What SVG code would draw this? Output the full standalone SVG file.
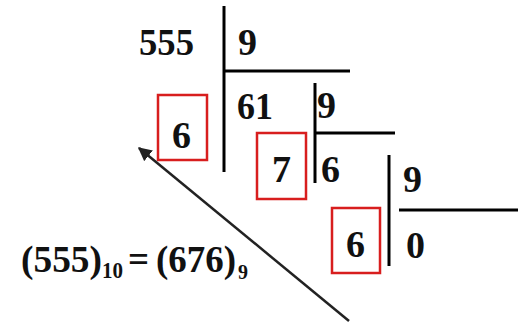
<svg xmlns="http://www.w3.org/2000/svg" width="518" height="324" viewBox="0 0 518 324">
<style>
.n{font-family:"Liberation Serif","Times New Roman",serif;font-size:38px;font-weight:bold;fill:#111}
.eq{font-family:"Liberation Serif","Times New Roman",serif;font-size:37px;font-weight:bold;fill:#111}
.ln{stroke:#000;stroke-width:3;fill:none}
.box{stroke:#d81e1e;stroke-width:2.5;fill:none}
</style>
<defs>
<marker id="ah" viewBox="0 0 10 10" refX="9" refY="5" markerWidth="5.5" markerHeight="5.5" orient="auto" markerUnits="strokeWidth">
<path d="M0,0 L10,5 L0,10 Z" fill="#222"/>
</marker>
</defs>
<rect width="518" height="324" fill="#fff"/>
<g id="division-lines">
<line class="ln" x1="224" y1="6" x2="224" y2="172"/>
<line class="ln" x1="224" y1="71" x2="350" y2="71"/>
<line class="ln" x1="315" y1="83" x2="315" y2="183"/>
<line class="ln" x1="315" y1="133" x2="395" y2="133"/>
<line class="ln" x1="389" y1="155" x2="389" y2="266"/>
<line class="ln" x1="399" y1="210" x2="518" y2="210"/>
</g>
<g id="step1">
<text class="n" x="139" y="55" textLength="55" lengthAdjust="spacingAndGlyphs">555</text>
<text class="n" x="238" y="55">9</text>
</g>
<g id="step2">
<rect class="box" x="158" y="95" width="49" height="65"/>
<text class="n" x="172" y="148">6</text>
<text class="n" x="237" y="119" textLength="36" lengthAdjust="spacingAndGlyphs">61</text>
<text class="n" x="317" y="118">9</text>
</g>
<g id="step3">
<rect class="box" x="257" y="133" width="49" height="66"/>
<text class="n" x="272" y="182">7</text>
<text class="n" x="321" y="182">6</text>
<text class="n" x="403" y="192">9</text>
</g>
<g id="step4">
<rect class="box" x="332" y="208" width="48" height="65"/>
<text class="n" x="346" y="257">6</text>
<text class="n" x="406" y="258">0</text>
</g>
<g id="connectors">
<line x1="349" y1="321" x2="139" y2="148" stroke="#222" stroke-width="2.5" marker-end="url(#ah)"/>
</g>
<g id="result">
<text class="eq" y="272"><tspan x="21" textLength="81" lengthAdjust="spacingAndGlyphs">(555)</tspan><tspan x="102" y="278" font-size="23" textLength="21" lengthAdjust="spacingAndGlyphs">10</tspan><tspan x="128" y="272">=</tspan><tspan x="156" textLength="80" lengthAdjust="spacingAndGlyphs">(676)</tspan><tspan x="238" y="279" font-size="20">9</tspan></text>
</g>
</svg>
